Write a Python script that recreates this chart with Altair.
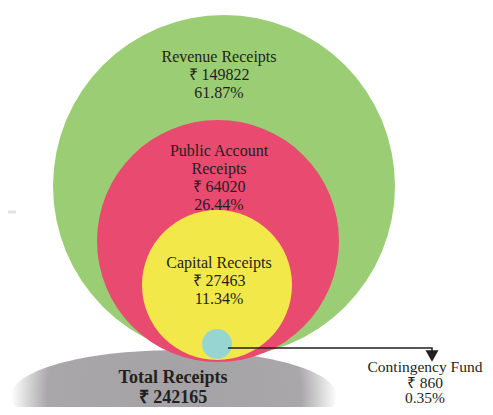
import altair as alt
import pandas as pd

# ---- data ----
categories = ["Revenue Receipts", "Public Account Receipts", "Capital Receipts", "Contingency Fund"]
amounts = [149822, 64020, 27463, 860]
shares = [61.87, 26.44, 11.34, 0.35]
total_label = "Total Receipts"
total_amount = 242165

# ---- layout (pixel positions in the 493x415 page) ----
circle_cx = [224, 218, 217, 217]
circle_cy = [186, 241, 285, 344]
circle_r = [171, 121, 75, 15]
circle_colors = ["#9bcd74", "#e94a70", "#f2e84a", "#97d5d3"]
label_x = [219, 219, 219, 425]
label_y = [57, 151, 263, 367]
label_lines = [
    ["Revenue Receipts"],
    ["Public Account", "Receipts"],
    ["Capital Receipts"],
    ["Contingency Fund"],
]
total_pos = (173, 378)
shadow_pos = (174, 396)
shadow_w = 326
arrow_pts = [(228, 348), (432, 348), (432, 353)]
arrow_head = (432, 356)

# page = 8px margin + chart + 8px margin = 493 x 415
W, H = 477, 399
xs = alt.Scale(domain=[8, 8 + W], nice=False, zero=False)
ys = alt.Scale(domain=[8, 8 + H], nice=False, zero=False, reverse=True)
X = lambda f: alt.X(f, type="quantitative", scale=xs, axis=None)
Y = lambda f: alt.Y(f, type="quantitative", scale=ys, axis=None)

font = "Liberation Serif"
tcol = "#231f20"

circles = pd.DataFrame({
    "cat": categories,
    "x": circle_cx,
    "y": circle_cy,
    "size": [(2 * r) ** 2 for r in circle_r],
    "color": circle_colors,
    "order": [0, 1, 2, 3],
})

labels = pd.DataFrame({
    "x": label_x,
    "y": label_y,
    "text": [lines + [f"₹ {a}", f"{s:.2f}%"] for lines, a, s in zip(label_lines, amounts, shares)],
})
main_labels = labels.iloc[:3]
cont = labels.iloc[3:]

total_df = pd.DataFrame({"x": [total_pos[0]], "y": [total_pos[1]],
                         "text": [[total_label, f"₹ {total_amount}"]]})

shadow_df = pd.DataFrame({"x": [shadow_pos[0]], "y": [shadow_pos[1]], "size": [shadow_w ** 2]})
grey_line = pd.DataFrame({"x": [8], "x2": [16], "y": [212]})
arrow_df = pd.DataFrame({"x": [p[0] for p in arrow_pts], "y": [p[1] for p in arrow_pts], "o": [0, 1, 2]})
head_df = pd.DataFrame({"x": [arrow_head[0]], "y": [arrow_head[1]]})

grey = alt.Chart(grey_line).mark_rule(color="#e2e2e2", strokeWidth=3).encode(
    x=X("x"), x2="x2", y=Y("y"))

shadow = alt.Chart(shadow_df).mark_point(
    shape="M-1,0A1,0.28,0,1,1,1,0A1,0.28,0,1,1,-1,0Z",
    filled=True, opacity=1,
    fill=alt.Gradient(gradient="radial", x1=0.5, y1=0.5, r1=0, x2=0.5, y2=0.5, r2=0.5,
                      stops=[alt.GradientStop(offset=0, color="#a4a2a4"),
                             alt.GradientStop(offset=0.78, color="#a9a7a9"),
                             alt.GradientStop(offset=1, color="#ffffff")]),
).encode(x=X("x"), y=Y("y"), size=alt.Size("size:Q", scale=None, legend=None))

circ = alt.Chart(circles).mark_circle(opacity=1).encode(
    x=X("x"), y=Y("y"),
    size=alt.Size("size:Q", scale=None, legend=None),
    color=alt.Color("color:N", scale=None),
    order=alt.Order("order:Q"),
)

arrow = alt.Chart(arrow_df).mark_line(color="#231f20", strokeWidth=1.5).encode(
    x=X("x"), y=Y("y"), order="o:Q")
head = alt.Chart(head_df).mark_point(shape="triangle-down", filled=True, color="#231f20",
                                     size=170, opacity=1).encode(x=X("x"), y=Y("y"))

txt = alt.Chart(main_labels).mark_text(font=font, fontSize=16, color=tcol, lineHeight=18,
                                       baseline="middle", align="center").encode(
    x=X("x"), y=Y("y"), text="text")
ctxt = alt.Chart(cont).mark_text(font=font, fontSize=15.5, color=tcol, lineHeight=15.5,
                                 baseline="middle", align="center").encode(
    x=X("x"), y=Y("y"), text="text")
ttxt = alt.Chart(total_df).mark_text(font=font, fontSize=18, fontWeight="bold", color=tcol,
                                     lineHeight=20, baseline="middle", align="center").encode(
    x=X("x"), y=Y("y"), text="text")

chart = alt.layer(grey, shadow, circ, arrow, head, txt, ctxt, ttxt).properties(
    width=W, height=H, padding=0, autosize="none"
).configure_view(stroke=None)

chart.save("out.html", embed_options={"renderer": "svg", "actions": False})
